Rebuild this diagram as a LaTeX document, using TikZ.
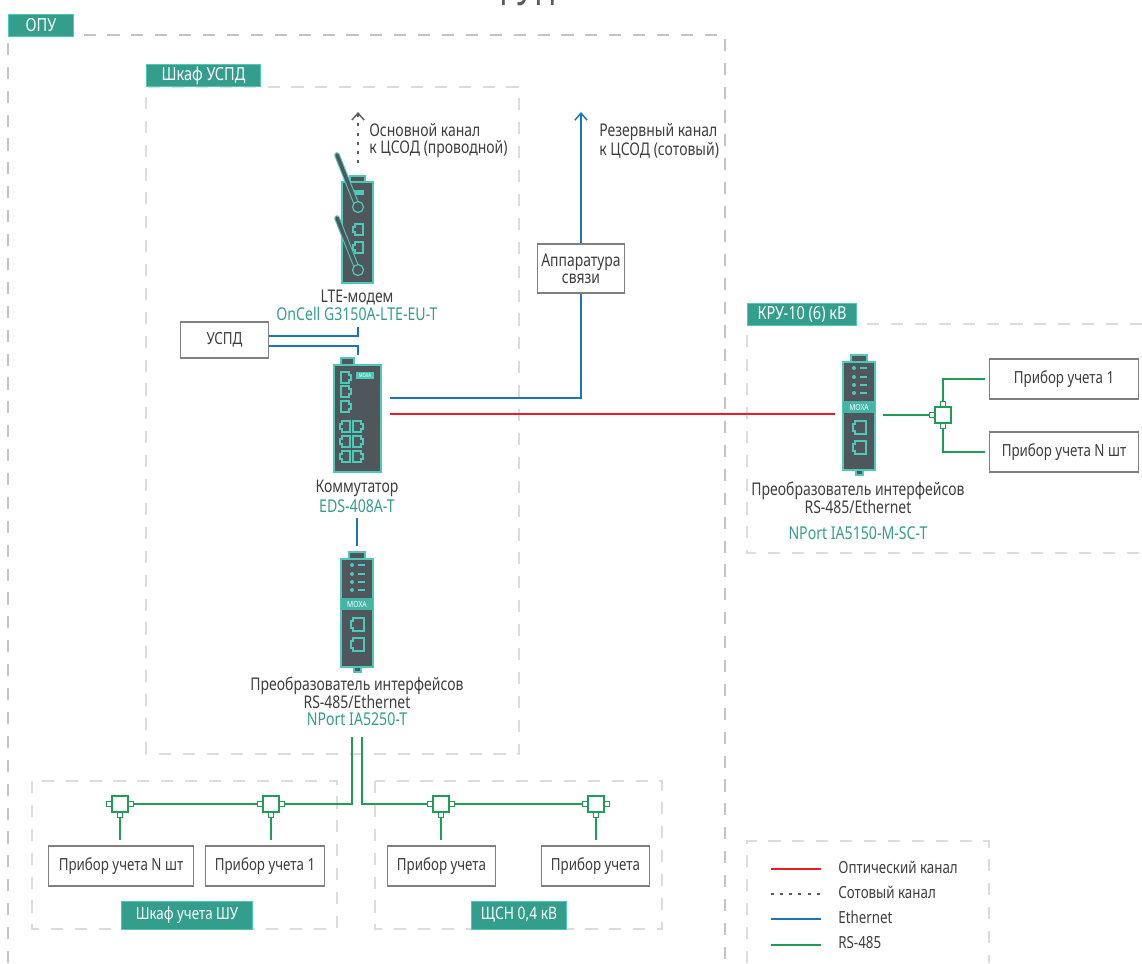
\documentclass[tikz,border=0pt]{standalone}
\usepackage{fontspec}
\setmainfont[FakeStretch=0.8]{Noto Sans}
\usetikzlibrary{arrows.meta}
\definecolor{tagfill}{HTML}{329E8B}
\definecolor{tagline}{HTML}{4CC9B8}
\definecolor{devfill}{HTML}{4F565C}
\definecolor{frameline}{HTML}{DCDCDC}
\definecolor{outerline}{HTML}{C4C4C4}
\definecolor{txtgrey}{HTML}{3E3E3E}
\definecolor{boxline}{HTML}{7F7F7F}
\definecolor{rsgreen}{HTML}{1E9E54}
\definecolor{ethblue}{HTML}{1B75BC}
\definecolor{optred}{HTML}{ED1C24}
\tikzset{
  frame/.style={frameline, line width=0.8pt, dash pattern=on 6.9pt off 6.7pt},
  tag/.style={draw=tagline, fill=tagfill, text=white, line width=0.5pt, inner sep=0pt, font=\fontsize{10.3}{10}\selectfont\bfseries},
  label/.style={text=txtgrey, inner sep=0pt, font=\fontsize{9.95}{9.6}\selectfont},
  model/.style={text=tagfill, inner sep=0pt, font=\fontsize{10.05}{10}\selectfont},
  meter/.style={draw=boxline, fill=white, line width=0.7pt, text=txtgrey, inner sep=0pt, font=\fontsize{9.5}{9.6}\selectfont},
  device/.style={draw=tagline, fill=devfill, line width=0.9pt, inner sep=0pt},
  port/.style={draw=tagline, line width=0.85pt},
  joint/.style={draw=rsgreen, fill=white, line width=0.7pt, inner sep=0pt, minimum size=9pt},
  stub/.style={draw=rsgreen, fill=white, line width=0.6pt, inner sep=0pt, minimum size=3pt},
  eth/.style={ethblue, line width=0.85pt},
  rs/.style={rsgreen, line width=0.85pt},
  opt/.style={optred, line width=0.6pt},
  cell/.style={txtgrey!85, line width=0.8pt, dash pattern=on 1.7pt off 3.5pt},
  tip/.style={-{Straight Barb[length=4pt,width=7pt]}},
  pics/splitter/.style={code={
    \node[joint] (-body) at (0,0) {};
    \node[stub] (-l) at (-11,0) {};
    \node[stub] (-r) at (11,0) {};
    \node[stub] (-b) at (0,11) {};
  }},
  pics/splitterk/.style={code={
    \node[joint] (-body) at (0,0) {};
    \node[stub] (-l) at (-11,0) {};
    \node[stub] (-t) at (0,-11) {};
    \node[stub] (-b) at (0,11) {};
  }},
  % converter seen from the front, origin at its top left corner
  pics/converter/.style={code={
    \draw[device] (8,-7) rectangle (24,0);
    \draw[device] (13,108) rectangle (20,113);
    \draw[device] (0,0) rectangle (32,108);
    \foreach \yy in {6,15,23,31}{
      \fill[tagline] (11,\yy) circle (2);
      \draw[tagline, line width=0.6pt] (17,\yy) -- (24,\yy);
    }
    \fill[tagline!90!black] (0,39) rectangle (32,51);
    \node[text=white, inner sep=0pt, font=\fontsize{4.8}{5}\selectfont] (#1) at (16,45) {MOXA};
    \foreach \yy in {59,79}{
      \draw[port] (12,\yy) -- (23,\yy) -- (23,\yy+13) -- (12,\yy+13) -- (12,\yy+10) -- (10,\yy+10) -- (10,\yy+3) -- (12,\yy+3) -- cycle;
    }
  }},
  % one RJ45 socket, its notch to the right
  pics/socket/.style={code={
    \draw[port] (0,0) -- (8,0) -- (8,3) -- (10,3) -- (10,8) -- (8,8) -- (8,11) -- (0,11) -- cycle;
  }}
}
\begin{document}
\begin{tikzpicture}[x=0.02cm, y=-0.02cm]
\useasboundingbox (0,0) rectangle (1142,963);

% frames
\draw[frame, outerline] (8,963) -- (8,35) -- (725,35) -- (725,963);
\draw[frame] (146,754) rectangle (519,87);
\draw[frame] (32,781) rectangle (337,929);
\draw[frame] (375,781) rectangle (662,929);
\draw[frame] (1142,324) -- (747,324) -- (747,553) -- (1142,553);
\draw[frame] (747,963) -- (747,841) -- (989,841) -- (989,963);

% top line, cut by the page
\node[text=txtgrey!85, inner sep=0pt, font=\fontsize{22}{24}\selectfont\bfseries, anchor=base] (title) at (528,6) {ГУП};

% tags
\node[tag, minimum width=37pt, minimum height=12.5pt] (opu) at (41,25) {ОПУ};
\node[tag, minimum width=65pt, minimum height=12.5pt] (uspdtag) at (203.5,75.5) {Шкаф УСПД};
\node[tag, minimum width=62pt, minimum height=12.5pt] (krutag) at (802,314) {КРУ-10 (6) кВ};
\node[tag, minimum width=75pt, minimum height=16pt, font=\fontsize{9.5}{10}\selectfont] (shutag) at (187,915) {Шкаф учета ШУ};
\node[tag, minimum width=54.5pt, minimum height=16pt, font=\fontsize{9.8}{10}\selectfont] (shsntag) at (519,915) {ЩСН 0,4 кВ};

% modem
\draw[device] (350,176) rectangle (365,182);
\node[device, minimum width=17.5pt, minimum height=57.3pt] (modem) at (357.5,232.5) {};
\fill[tagline] (352,190) rectangle (364,195);
\pic[xscale=-1] at (363,224) {socket};
\pic[xscale=-1] at (363,242) {socket};
\foreach \dy in {0,63}{
  \draw[tagline, line width=3.2pt, line cap=round] (337,155+\dy) -- (358,208+\dy);
  \draw[devfill, line width=2pt, line cap=round] (337,155+\dy) -- (358,208+\dy);
  \draw[tagline, fill=devfill, line width=0.7pt] (358,207+\dy) circle (5.5);
}

% switch
\draw[device] (341,358) rectangle (354,365);
\node[device, minimum width=26.6pt, minimum height=60.6pt] (switch) at (357.5,418.5) {};
\node[fill=tagline, minimum width=10.5pt, minimum height=4pt, inner sep=0pt, text=white, font=\fontsize{3}{3}\selectfont] (moxasw) at (365,375.5) {MOXA};
\foreach \yy in {372,386,401}{ \pic at (341,\yy) {socket}; }
\foreach \yy in {421,436,451}{
  \pic at (353,\yy) {socket};
  \pic[xscale=-1] at (350,\yy) {socket};
}

% converters
\pic at (341,559) {converter=moxaa};
\pic at (843,362) {converter=moxab};
\coordinate (convatop) at (357,546);

% boxes
\node[meter, minimum width=50.4pt, minimum height=20.4pt] (uspd) at (224.5,340) {УСПД};
\node[meter, minimum width=85pt, minimum height=22.7pt] (meterk) at (1064,379) {Прибор учета 1};
\node[meter, minimum width=85pt, minimum height=22.7pt] (metern) at (1064,452) {Прибор учета N шт};
\node[meter, minimum width=82.8pt, minimum height=22.7pt] (meterc) at (121,866) {Прибор учета N шт};
\node[meter, minimum width=68pt, minimum height=22.7pt] (meterd) at (265,866) {Прибор учета 1};
\node[meter, minimum width=61.8pt, minimum height=22.7pt] (metere) at (441.5,866) {Прибор учета};
\node[meter, minimum width=61.8pt, minimum height=22.7pt] (meterf) at (595.5,866) {Прибор учета};

% splitters
\pic (sa) at (120,804) {splitter};
\pic (sb) at (271,804) {splitter};
\pic (sc) at (441,804) {splitter};
\pic (sd) at (596,804) {splitter};
\pic (se) at (943,415) {splitterk};

% labels
\node[label, anchor=west, align=left] (mainlbl) at (369,141) {Основной канал\\к ЦСОД (проводной)};
\node[label, anchor=west, align=left] (backlbl) at (599,141) {Резервный канал\\к ЦСОД (сотовый)};
\node[label] (lte) at (357,297) {LTE-модем};
\node[model] (oncell) at (357,314) {OnCell G3150A-LTE-EU-T};
\node[label] (swlbl) at (357,488) {Коммутатор};
\node[model] (eds) at (357,506) {EDS-408A-T};
\node[label] (conva) at (357,686) {Преобразователь интерфейсов};
\node[label] (convb) at (357,702) {RS-485/Ethernet};
\node[model] (nporta) at (357,719) {NPort IA5250-T};
\node[label] (convc) at (858,491) {Преобразователь интерфейсов};
\node[label] (convd) at (858,507) {RS-485/Ethernet};
\node[model] (nportb) at (858,533) {NPort IA5150-M-SC-T};

% free ends of the connectors
\coordinate (uplinka) at (358,112);
\coordinate (uplinkb) at (581,112);
\coordinate (modemtop) at (358,163);
\coordinate (modembot) at (358,327);
\coordinate (switchtop) at (358,355);
\coordinate (ethout) at (390,398);
\coordinate (optout) at (390,414);
\coordinate (optin) at (835,414);
\coordinate (rsout) at (883,415);
\coordinate (rsa) at (352,737);
\coordinate (rsb) at (362,737);

% connectors
\draw[cell, tip] (modemtop) -- (uplinka);
\draw[eth] (uspd.east |- 0,336) -| (modembot);
\draw[eth] (uspd.east |- 0,346) -| (switchtop);
\draw[eth, tip] (ethout) -| (uplinkb);
\node[meter, minimum width=49.9pt, minimum height=27.8pt, align=center, font=\fontsize{9.9}{9.6}\selectfont] (link) at (581,268.5) {Аппаратура\\связи};
\draw[opt] (optout) -- (optin);
\draw[eth] (357,518) -- (convatop);
\draw[rs] (rsa) |- (sb-r);
\draw[rs] (rsb) |- (sc-l);
\draw[rs] (sa-r) -- (sb-l);
\draw[rs] (sc-r) -- (sd-l);
\draw[rs] (sa-b) -- (120,840);
\draw[rs] (sb-b) -- (271,840);
\draw[rs] (sc-b) -- (441,840);
\draw[rs] (sd-b) -- (596,840);
\draw[rs] (rsout) -- (se-l);
\draw[rs] (se-t) |- (985,379);
\draw[rs] (se-b) |- (985,452);

% legend
\foreach \yy/\sty/\txt/\nm in {869/opt/Оптический канал/lega, 894/cell/Сотовый канал/legb, 919/eth/Ethernet/legc, 945/rs/RS-485/legd}{
  \coordinate (\nm s) at (771,\yy);
  \coordinate (\nm e) at (821,\yy);
  \draw[\sty, line width=0.95pt] (\nm s) -- (\nm e);
  \node[label, anchor=west, font=\fontsize{9.5}{9.6}\selectfont] (\nm) at (838,\yy-2) {\txt};
}
\end{tikzpicture}
\end{document}
